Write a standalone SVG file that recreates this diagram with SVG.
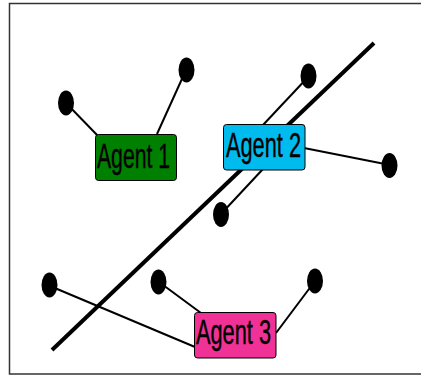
<svg xmlns="http://www.w3.org/2000/svg" width="421" height="378" viewBox="0 0 421 378">
<style>
.frame{fill:#fff;stroke:#333;stroke-width:1.5}
.c{stroke:#000;stroke-width:2;fill:none}
.thick{stroke:#000;stroke-width:4;fill:none}
.dot{fill:#000}
.box{stroke:#000;stroke-width:1}
.lbl{font-family:"Liberation Sans",Arial,sans-serif;font-size:35px;fill:#000;stroke:#000;stroke-width:0.4}
</style>
<rect class="frame" x="9.5" y="3.5" width="416" height="370.5"/>
<g id="connectors">
<line class="thick" x1="374" y1="43" x2="52" y2="350"/>
<line class="c" x1="66" y1="103" x2="98" y2="136"/>
<line class="c" x1="186" y1="70" x2="157" y2="134"/>
<line class="c" x1="309" y1="76" x2="263" y2="125"/>
<line class="c" x1="263" y1="169" x2="221" y2="214"/>
<line class="c" x1="304" y1="148" x2="390" y2="165"/>
<line class="c" x1="50" y1="286" x2="195" y2="347"/>
<line class="c" x1="159" y1="282" x2="201" y2="313"/>
<line class="c" x1="315" y1="281" x2="276" y2="333"/>
</g>
<g id="dots">
<ellipse class="dot" cx="66" cy="103" rx="8" ry="12.5"/>
<ellipse class="dot" cx="186.5" cy="70" rx="8" ry="12.5"/>
<ellipse class="dot" cx="308.5" cy="76" rx="8" ry="12.5"/>
<ellipse class="dot" cx="389.5" cy="165.5" rx="8" ry="12.5"/>
<ellipse class="dot" cx="221" cy="214.5" rx="8" ry="12.5"/>
<ellipse class="dot" cx="49.5" cy="285" rx="8" ry="12.5"/>
<ellipse class="dot" cx="158.5" cy="282" rx="8" ry="12.5"/>
<ellipse class="dot" cx="315" cy="281" rx="8" ry="12.5"/>
</g>
<g id="agent1">
<rect class="box" x="95.5" y="134.5" width="81" height="46" rx="3" fill="#008000"/>
<text class="lbl" x="97" y="167.5" textLength="73" lengthAdjust="spacingAndGlyphs">Agent 1</text>
</g>
<g id="agent2">
<rect class="box" x="223.5" y="124.5" width="81.5" height="45.5" rx="3" fill="#00bbee"/>
<text class="lbl" x="226" y="157" textLength="75" lengthAdjust="spacingAndGlyphs">Agent 2</text>
</g>
<g id="agent3">
<rect class="box" x="194.5" y="312.5" width="81.5" height="45.5" rx="3" fill="#f03296"/>
<text class="lbl" x="196" y="344" textLength="75" lengthAdjust="spacingAndGlyphs">Agent 3</text>
</g>
</svg>
